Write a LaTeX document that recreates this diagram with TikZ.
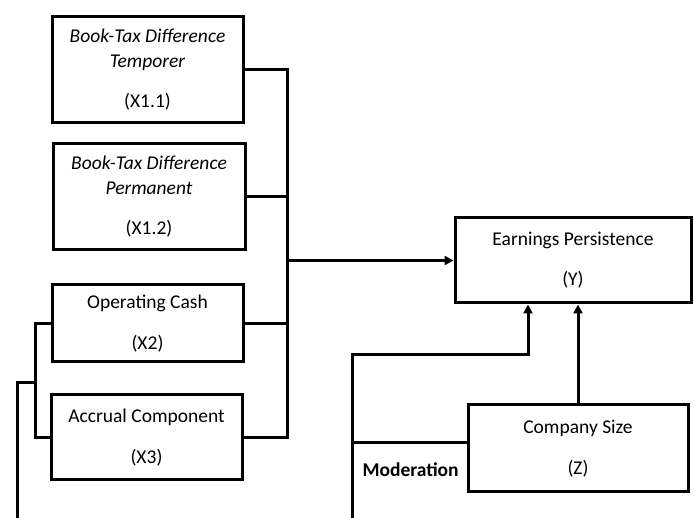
\documentclass[tikz,border=0pt]{standalone}
\usepackage{fontspec}
\setmainfont{Carlito}
\usetikzlibrary{positioning,arrows.meta}

\begin{document}
\begin{tikzpicture}[
  x=1pt, y=-1pt,
  font=\fontsize{19.5}{25}\selectfont,
  % Plain framed boxes with heavy rules, as in the source figure.
  var/.style={draw, line width=3pt, align=center, inner sep=0pt},
  link/.style={line width=3pt},
  arr/.style={link, -{Triangle[length=9pt, width=9pt]}}
]
\useasboundingbox (0,0) rectangle (694,518);

\node[var, minimum width=191pt, minimum height=106pt] (x11) at (147.5,70)
  {\textit{Book-Tax Difference}\\\textit{Temporer}\\[15pt](X1.1)};
\node[var, minimum width=192pt, minimum height=106pt] (x12) at (149,196.5)
  {\textit{Book-Tax Difference}\\\textit{Permanent}\\[15pt](X1.2)};
\node[var, minimum width=191pt, minimum height=77pt] (x2) at (147.5,323.5)
  {Operating Cash\\[16pt](X2)};
\node[var, minimum width=191pt, minimum height=85pt] (x3) at (146.5,437.5)
  {Accrual Component\\[16pt](X3)};
\node[var, minimum width=236pt, minimum height=85pt] (y) at (573,260.5)
  {Earnings Persistence\\[15pt](Y)};
\node[var, minimum width=220pt, minimum height=87pt] (z) at (578,448.5)
  {Company Size\\[16pt](Z)};
\node[anchor=base west, font=\fontsize{19.5}{25}\selectfont\bfseries] (mod) at (359,477) {Moderation};

\coordinate (bus) at (287,0);
\coordinate (bracket) at (35,0);
\coordinate (join) at (35,383);
\coordinate (leftend) at (17,518);
\coordinate (modtop) at (352,355);
\coordinate (modend) at (352,518);
\coordinate (ztap) at ([yshift=6pt]z.west);
\coordinate (yin) at ([xshift=-45pt]y.south);

% independent variables into the bus
\draw[link] (x11.east) -| (bus |- x3.east) -- (x3.east);
\foreach \v in {x12, x2}
  \draw[link] (\v.east) -- (bus |- \v.east);
\draw[arr] (bus |- y.west) -- (y.west);

% left bracket over X2 and X3
\draw[link] (x2.west) -- (bracket |- x2.west) -- (bracket |- x3.west) -- (x3.west);
\draw[link] (join) -| (leftend);

% moderation path
\draw[arr] (modend) -- (modtop) -| (yin);
\draw[link] (ztap) -- (modtop |- ztap);
\draw[arr] (z.north) -- (z.north |- y.south);
\end{tikzpicture}
\end{document}
